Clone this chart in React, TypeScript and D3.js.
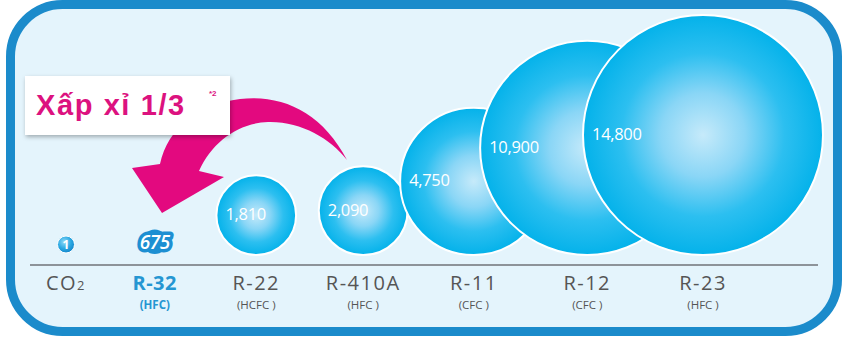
import React from "react";
import * as d3 from "d3";

const categories = ["CO2", "R-32", "R-22", "R-410A", "R-11", "R-12", "R-23"];
const subtypes = ["", "(HFC)", "(HCFC )", "(HFC )", "(CFC )", "(CFC )", "(HFC )"];
const gwp = [1, 675, 1810, 2090, 4750, 10900, 14800];
const highlight = "R-32";
const calloutText = "Xấp xỉ 1/3";
const calloutNote = "*2";

const W = 848;
const H = 339;

export default function App() {
  const baseY = 265;
  const bubbleBottom = 255;
  const x = d3.scalePow().exponent(1.1).domain([0, categories.length - 1]).range([66, 703]);
  const r = d3.scaleSymlog().constant(800).domain([400, 14800]).range([5, 120]).clamp(true);
  const fmt = d3.format(",");
  const radius = (v: number) => Math.max(r(v), 8.5);

  const arrowPath =
    "M 347 160 C 322 112, 282 94, 240 99 C 198 104, 168 128, 160 164 L 132 168 L 162 213 L 224 177 L 199 171 C 212 142, 238 123, 268 122 C 300 121, 330 138, 347 160 Z";

  return (
    <svg width={W} height={H} style={{ display: "block", position: "absolute", left: 0, top: 0 }}>
      <defs>
        <radialGradient id="bub" cx="50%" cy="50%" r="50%">
          <stop offset="0%" stopColor="#c6eafa" />
          <stop offset="35%" stopColor="#8ad6f6" />
          <stop offset="68%" stopColor="#2cbff0" />
          <stop offset="100%" stopColor="#04b2ea" />
        </radialGradient>
        <radialGradient id="small" cx="40%" cy="35%" r="65%">
          <stop offset="0%" stopColor="#8fdaf8" />
          <stop offset="60%" stopColor="#2aa8e2" />
          <stop offset="100%" stopColor="#1788cc" />
        </radialGradient>
        <filter id="shadow" x="-10%" y="-20%" width="130%" height="150%">
          <feDropShadow dx="1" dy="2" stdDeviation="2" floodColor="#000" floodOpacity="0.3" />
        </filter>
      </defs>
      <rect x={0} y={0} width={W} height={H} fill="#ffffff" />
      <rect x={10.5} y={4.5} width={827} height={327} rx={52} ry={52} fill="#e4f4fc" stroke="#1b8bcb" strokeWidth={9} />

      <line x1={30} x2={818} y1={baseY} y2={baseY} stroke="#8d9399" strokeWidth={2} />

      {gwp.map((v, i) => {
        const rr = radius(v);
        const cx = x(i);
        const big = v >= 1000;
        if (big) {
          const cy = bubbleBottom - rr;
          return (
            <g key={categories[i]}>
              <circle cx={cx} cy={cy} r={rr} fill="url(#bub)" stroke="#ffffff" strokeWidth={2} />
              <text
                x={cx - rr + 9}
                y={cy + 5}
                fill="#ffffff"
                fontFamily="'Open Sans', sans-serif"
                fontSize={16.5}
                letterSpacing={-0.3}
              >
                {fmt(v)}
              </text>
            </g>
          );
        }
        const isBlob = categories[i] === highlight;
        const cy = bubbleBottom - 2 - (isBlob ? rr - 3 : rr);
        return (
          <g key={categories[i]}>
            <circle
              cx={cx}
              cy={cy}
              r={isBlob ? rr - 2 : rr}
              fill={isBlob ? "#1d8fd2" : "url(#small)"}
              stroke="#ffffff"
              strokeWidth={isBlob ? 0 : 1}
            />
            {isBlob && (
              <text
                x={cx}
                y={cy + 7}
                textAnchor="middle"
                fontFamily="'Open Sans', sans-serif"
                fontSize={19}
                fontWeight={600}
                fontStyle="italic"
                letterSpacing={-0.5}
                fill="#1d8fd2"
                stroke="#1d8fd2"
                strokeWidth={7}
                strokeLinejoin="round"
              >
                {fmt(v)}
              </text>
            )}
            <text
              x={cx}
              y={cy + (isBlob ? 7 : 4.5)}
              textAnchor="middle"
              fontFamily="'Open Sans', sans-serif"
              fontSize={isBlob ? 19 : 12}
              fontWeight={isBlob ? 600 : 700}
              fontStyle={isBlob ? "italic" : "normal"}
              letterSpacing={isBlob ? -0.5 : 0}
              fill="#ffffff"
            >
              {fmt(v)}
            </text>
          </g>
        );
      })}

      {categories.map((c, i) => {
        const hl = c === highlight;
        const color = hl ? "#2596d2" : "#555555";
        return (
          <g key={"lab" + c}>
            <text
              x={x(i)}
              y={290}
              textAnchor="middle"
              fontFamily="'Open Sans', sans-serif"
              fontSize={20}
              fontWeight={hl ? 700 : 400}
              letterSpacing={hl ? 0.5 : 1.5}
              fill={color}
            >
              {c === "CO2" ? (
                <>
                  CO<tspan fontSize={13}>2</tspan>
                </>
              ) : (
                c
              )}
            </text>
            {subtypes[i] && (
              <text
                x={x(i)}
                y={309}
                textAnchor="middle"
                fontFamily="'Open Sans', sans-serif"
                fontSize={11.5}
                fontWeight={hl ? 700 : 400}
                fill={color}
              >
                {subtypes[i]}
              </text>
            )}
          </g>
        );
      })}

      <path d={arrowPath} fill="#e3097f" />

      <g filter="url(#shadow)">
        <rect x={25} y={76} width={205} height={59} fill="#ffffff" />
      </g>
      <text
        x={36}
        y={115}
        fontFamily="'Liberation Sans', Arial, sans-serif"
        fontSize={29}
        fontWeight={700}
        letterSpacing={1.6}
        fill="#dc127f"
      >
        {calloutText}
      </text>
      <text x={209} y={96} fontFamily="'Liberation Sans', Arial, sans-serif" fontSize={8} fontWeight={700} fill="#dc127f">
        {calloutNote}
      </text>
    </svg>
  );
}
